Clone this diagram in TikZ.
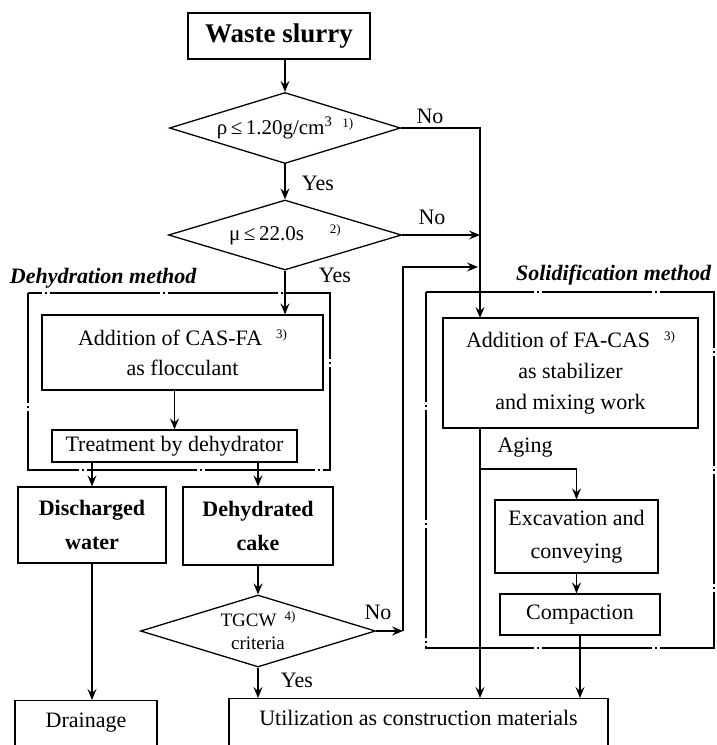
\documentclass[tikz,border=0pt]{standalone}
\usepackage{fontspec}
\setmainfont{Liberation Serif}
\usetikzlibrary{shapes.geometric,arrows.meta}

\newcommand{\fnmark}[1]{\raisebox{0.7ex}{\fontsize{13}{13}\selectfont #1}}

\begin{document}
\begin{tikzpicture}[x=1pt,y=-1pt,line width=1.3pt,
    font=\fontsize{22}{30}\selectfont,
    box/.style={draw,rectangle,inner sep=0pt,align=center},
    decision/.style={draw,diamond,inner sep=0pt,aspect=3.2,align=center,font=\fontsize{21}{22}\selectfont},
    flow/.style={-{Stealth[length=11pt,width=9pt,inset=4pt]}},
    methodframe/.style={dash pattern=on 110pt off 3pt on 2pt off 3pt},
    method/.style={font=\fontsize{22}{24}\selectfont\bfseries\itshape}]
    \useasboundingbox (0,0) rectangle (717,745);
    \clip (0,0) rectangle (717,745);
    %
    \node[box,font=\fontsize{27}{30}\selectfont\bfseries,minimum width=182pt,minimum height=46pt] (slurry) at (279,36) {Waste slurry};
    \node[decision,minimum width=231pt,minimum height=71pt] (rho) at (285,128) {ρ\,≤\,1.20g/cm\textsuperscript{3}\hspace{10pt}\fnmark{1)}};
    \node[decision,minimum width=233pt,minimum height=70pt] (mu) at (285,235) {μ\,≤\,22.0s\hspace{26pt}\fnmark{2)}};
    % dehydration side
    \draw[methodframe] (28,293) rectangle (330,470);
    \node[method,anchor=west] (dehydm) at (6,278) {Dehydration method};
    \node[box,minimum width=281pt,minimum height=75pt] (floc) at (182.5,352.5) {Addition of CAS-FA\hspace{14pt}\fnmark{3)}\\as flocculant};
    \node[box,minimum width=245pt,minimum height=32pt] (treat) at (174.5,446) {Treatment by dehydrator};
    \node[box,font=\fontsize{22}{34}\selectfont\bfseries,minimum width=148pt,minimum height=76pt] (water) at (92,525) {Discharged\\water};
    \node[box,font=\fontsize{22}{34}\selectfont\bfseries,minimum width=150pt,minimum height=78pt] (cake) at (258,526) {Dehydrated\\cake};
    \node[decision,font=\fontsize{19}{23}\selectfont,minimum width=235pt,minimum height=72pt] (tgcw) at (258,631) {TGCW\hspace{8pt}\fnmark{4)}\\criteria};
    \node[box,anchor=north,text height=16pt,text depth=30pt,inner ysep=11pt,minimum width=142pt] (drain) at (86,700) {Drainage};
    \node[box,anchor=north,text height=16pt,text depth=30pt,inner ysep=11pt,minimum width=379pt] (util) at (418.5,698) {Utilization as construction materials};
    % solidification side
    \draw[methodframe] (426,292) rectangle (714,648);
    \node[method,anchor=east] (solidm) at (715,275) {Solidification method};
    \node[box,font=\fontsize{22}{31}\selectfont,minimum width=255pt,minimum height=110pt] (stab) at (570.5,373) {Addition of FA-CAS\hspace{14pt}\fnmark{3)}\\as stabilizer\\and mixing work};
    \node[box,font=\fontsize{22}{33}\selectfont,minimum width=163pt,minimum height=73pt] (excav) at (576.5,536.5) {Excavation and\\conveying};
    \node[box,minimum width=160pt,minimum height=41pt] (compact) at (580,614.5) {Compaction};
    % labels
    \node (no1) at (430,116) {No};
    \node (yes1) at (318,183) {Yes};
    \node (no2) at (432,217) {No};
    \node (yes2) at (335,275) {Yes};
    \node (no3) at (378,612) {No};
    \node (yes3) at (297,680) {Yes};
    \node (aging) at (525,448) {Aging};
    \coordinate (feed) at (480,318);
    \coordinate (back) at (403,267);
    \coordinate (split) at (480,469);
    % connectors
    \draw[flow] (rho.north |- slurry.south) -- (rho.north);
    \draw[flow] (rho.south) -- (mu.north);
    \draw[flow] (rho.east) -| (feed);
    \draw[flow] (mu.east) -- (mu.east -| feed);
    \draw[flow] (mu.south) -- (mu.south |- floc.north);
    \draw[flow] (floc.south -| treat.north) -- (treat.north);
    \draw[flow] (treat.south -| water.north) -- (water.north);
    \draw[flow] (treat.south -| cake.north) -- (cake.north);
    \draw[flow] (water.south) -- (water.south |- drain.north);
    \draw[flow] (cake.south) -- (tgcw.north);
    \draw[flow] (tgcw.south) -- (tgcw.south |- util.north);
    \draw[flow] (tgcw.east) -- (tgcw.east -| back);
    \draw[flow] (tgcw.east -| back) -- (back) -- ([xshift=-2pt]back -| feed);
    \draw[flow] (feed |- stab.south) -- (feed |- util.north);
    \draw[flow] (split) -| (excav.north);
    \draw[flow] (excav.south) -- (excav.south |- compact.north);
    \draw[flow] (compact.south) -- (compact.south |- util.north);
\end{tikzpicture}
\end{document}
